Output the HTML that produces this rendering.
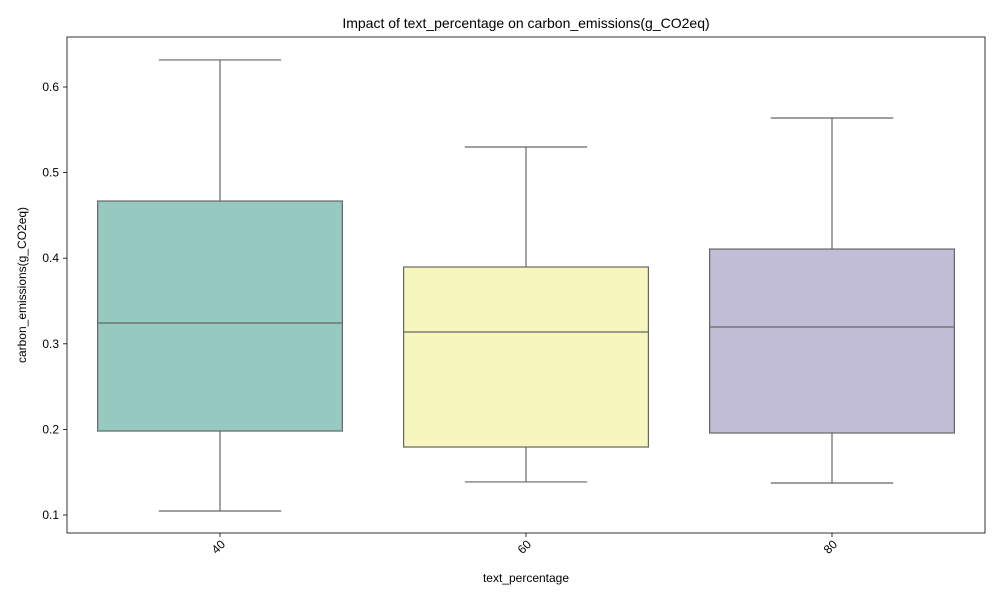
<!DOCTYPE html>
<html><head><meta charset="utf-8"><style>
body{margin:0;background:#fff;font-family:"Liberation Sans","DejaVu Sans",sans-serif;}
</style></head><body>
<svg id="chart" width="1000" height="600" xmlns="http://www.w3.org/2000/svg">
<text x="526" y="28" font-size="14" text-anchor="middle" fill="#000">Impact of text_percentage on carbon_emissions(g_CO2eq)</text>
<g id="plot"></g>
<rect x="67" y="37" width="918" height="496" fill="none" stroke="#000" stroke-width="0.8"/>
<text x="526" y="582" font-size="12" text-anchor="middle">text_percentage</text>
<text transform="translate(26,285) rotate(-90)" font-size="12" text-anchor="middle">carbon_emissions(g_CO2eq)</text>
</svg>
<script>
const categories=["40","60","80"];
const whiskLow=[0.1047,0.1386,0.1374];
const q1=[0.1981,0.1794,0.1958];
const medians=[0.3243,0.3138,0.3196];
const q3=[0.4668,0.3897,0.4107];
const whiskHigh=[0.6316,0.5299,0.5638];
const yTicks=[0.1,0.2,0.3,0.4,0.5,0.6];
const colors=["#96c9bf","#f6f6bd","#c1bdd6"];
const NS="http://www.w3.org/2000/svg";
const L=67,R=985,T=37,B=533;
function y(v){return 515-(v-0.1)*856;}
const step=(R-L)/categories.length;
function x(i){return L+step*(i+0.5);}
const g=document.getElementById('plot');
function mk(t,a){const e=document.createElementNS(NS,t);for(const k in a)e.setAttribute(k,a[k]);g.appendChild(e);return e;}
yTicks.forEach(v=>{
 const t=mk('line',{x1:L-4,x2:L,y1:y(v),y2:y(v),stroke:'#000','stroke-width':0.8});
 
 
 const l=mk('text',{x:L-8,y:y(v)+4,'font-size':12,'text-anchor':'end'});l.textContent=v.toFixed(1);
 
 
});
categories.forEach((c,i)=>{
 const cx=x(i),bw=step*0.8,cw=step*0.4;
 const s={stroke:'#666','stroke-width':1.2};
 const w1=mk('line',Object.assign({x1:cx,x2:cx,y1:y(q3[i]),y2:y(whiskHigh[i])},s));
 
 
 const w2=mk('line',Object.assign({x1:cx,x2:cx,y1:y(q1[i]),y2:y(whiskLow[i])},s));
 
 
 const c1=mk('line',Object.assign({x1:cx-cw/2,x2:cx+cw/2,y1:y(whiskHigh[i]),y2:y(whiskHigh[i])},s));
 
 
 const c2=mk('line',Object.assign({x1:cx-cw/2,x2:cx+cw/2,y1:y(whiskLow[i]),y2:y(whiskLow[i])},s));
 
 
 const b=mk('rect',Object.assign({x:cx-bw/2,y:y(q3[i]),width:bw,height:y(q1[i])-y(q3[i]),fill:colors[i]},s));
 
 
 const m=mk('line',Object.assign({x1:cx-bw/2,x2:cx+bw/2,y1:y(medians[i]),y2:y(medians[i])},s));
 
 
 const t=mk('line',{x1:cx,x2:cx,y1:B,y2:B+4,stroke:'#000','stroke-width':0.8});
 
 
 const l=mk('text',{x:0,y:0,'font-size':12,'text-anchor':'end',transform:`translate(${cx+6},${B+12}) rotate(-45)`});l.textContent=c;
 
 
});
</script>
</body></html>
